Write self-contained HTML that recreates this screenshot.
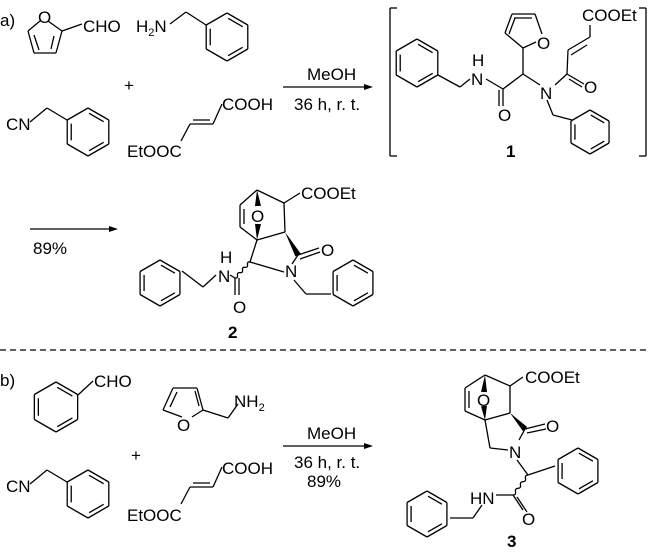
<!DOCTYPE html>
<html><head><meta charset="utf-8"><style>
body{margin:0;background:#fff}
svg{display:block}
text{font-family:"Liberation Sans",Arial,sans-serif;font-size:17px;fill:#000}
</style></head><body>
<svg id="s" width="650" height="553" viewBox="0 0 650 553" xmlns="http://www.w3.org/2000/svg">
<g id="g" stroke="#000" stroke-width="1.3" fill="none"></g>
<text x="0" y="26">a)</text>
<text x="38" y="23">O</text>
<text x="83" y="32">CHO</text>
<text x="136" y="32">H<tspan font-size="11" dy="4">2</tspan><tspan dy="-4">N</tspan></text>
<text x="124" y="91">+</text>
<text x="6" y="130">CN</text>
<text x="222" y="110">COOH</text>
<text x="127" y="157">EtOOC</text>
<text x="307" y="80">MeOH</text>
<text x="294" y="110">36 h, r. t.</text>
<text x="472" y="66">H</text>
<text x="471" y="85">N</text>
<text x="498" y="121">O</text>
<text x="537" y="49">O</text>
<text x="540" y="99">N</text>
<text x="584" y="93">O</text>
<text x="582" y="21">COOEt</text>
<text x="506" y="157" font-weight="bold">1</text>
<text x="33" y="254">89%</text>
<text x="251" y="222">O</text>
<text x="301" y="199">COOEt</text>
<text x="321" y="256">O</text>
<text x="285" y="277">N</text>
<text x="220" y="263">H</text>
<text x="218" y="282">N</text>
<text x="233" y="313">O</text>
<text x="228" y="338" font-weight="bold">2</text>
<text x="0" y="386">b)</text>
<text x="94" y="387">CHO</text>
<text x="177" y="431">O</text>
<text x="234" y="407">NH<tspan font-size="11" dy="4">2</tspan></text>
<text x="131" y="461">+</text>
<text x="6" y="492">CN</text>
<text x="222" y="474">COOH</text>
<text x="127" y="521">EtOOC</text>
<text x="307" y="439">MeOH</text>
<text x="294" y="468">36 h, r. t.</text>
<text x="307" y="487">89%</text>
<text x="477" y="406">O</text>
<text x="525" y="383">COOEt</text>
<text x="546" y="432">O</text>
<text x="509" y="458">N</text>
<text x="470" y="504">HN</text>
<text x="522" y="525">O</text>
<text x="507" y="547" font-weight="bold">3</text>
</svg>
<script>
const g=document.getElementById('g');const NS='http://www.w3.org/2000/svg';
function L(x1,y1,x2,y2,w){const e=document.createElementNS(NS,'line');e.setAttribute('x1',x1);e.setAttribute('y1',y1);e.setAttribute('x2',x2);e.setAttribute('y2',y2);if(w)e.setAttribute('stroke-width',w);g.appendChild(e);}
function P(pts,fill){const e=document.createElementNS(NS,'polygon');e.setAttribute('points',pts.map(p=>p.join(',')).join(' '));if(fill){e.setAttribute('fill','#000');e.setAttribute('stroke','none');}g.appendChild(e);}
function PL(pts){for(let i=0;i<pts.length-1;i++)L(pts[i][0],pts[i][1],pts[i+1][0],pts[i+1][1]);}
function dbl(a,b,c){const mx=(a[0]+b[0])/2,my=(a[1]+b[1])/2;let dx=c[0]-mx,dy=c[1]-my;const d=Math.hypot(dx,dy);dx=dx/d*4;dy=dy/d*4;
 const f=0.15;L(a[0]+(b[0]-a[0])*f+dx,a[1]+(b[1]-a[1])*f+dy,b[0]-(b[0]-a[0])*f+dx,b[1]-(b[1]-a[1])*f+dy);}
function hex(cx,cy,r){const v=[];for(let i=0;i<6;i++){const t=-Math.PI/2+i*Math.PI/3;v.push([cx+r*Math.cos(t),cy+r*Math.sin(t)]);}
 for(let i=0;i<6;i++)L(v[i][0],v[i][1],v[(i+1)%6][0],v[(i+1)%6][1]);
 for(let i=0;i<6;i+=2)dbl(v[i],v[(i+1)%6],[cx,cy]);return v;}
function arrow(x1,x2,y){L(x1,y,x2-6,y);P([[x2,y],[x2-9,y-3],[x2-9,y+3]],1);}
function wedge(a,b){const dx=b[0]-a[0],dy=b[1]-a[1],d=Math.hypot(dx,dy);const nx=-dy/d*3,ny=dx/d*3;P([a,[b[0]+nx,b[1]+ny],[b[0]-nx,b[1]-ny]],1);}
function wavy(a,b){const n=6;let s='M'+a[0]+','+a[1];const dx=(b[0]-a[0])/n,dy=(b[1]-a[1])/n,d=Math.hypot(dx,dy),nx=-dy/d*2.5,ny=dx/d*2.5;
 for(let i=1;i<=n;i++){const sg=i%2?1:-1;s+=' Q'+(a[0]+dx*(i-0.5)+nx*sg)+','+(a[1]+dy*(i-0.5)+ny*sg)+' '+(a[0]+dx*i)+','+(a[1]+dy*i);}
 const e=document.createElementNS(NS,'path');e.setAttribute('d',s);g.appendChild(e);}

PL([[48,21],[62,31],[56,53],[34,53],[28,31],[40,21]]);
L(34,35,39,50);L(54,36,51,49);
L(62,31,82,24);
hex(227,37,24);L(170,24,186,12);L(186,12,206,25);
hex(88,132,24);L(30,122,47,108);L(47,108,67,120);
PL([[222,104],[213,124],[190,124],[181,141]]);L(193,120,210,120);
arrow(283,373,87);

L(390,8,390,156);L(390,8,397,8);L(390,156,397,156);
L(646,8,646,156);L(646,8,639,8);L(646,156,639,156);
hex(417,63,24);
PL([[438,75],[460,87],[470,79]]);
PL([[486,79],[503,89],[523,74]]);
L(503,89,503,106);L(499,90,499,106);
PL([[523,74],[523,48],[505,33],[512,14],[535,14],[542,34]]);L(536,42,523,48);
L(509,34,515,18);L(514,18,532,18);
L(523,74,540,85);
PL([[555,85],[567,74],[568,50],[590,37],[590,25]]);
L(567,74,584,84);L(569,79,582,87);
L(571,55,587,45);
PL([[547,100],[553,115],[572,120]]);
hex(590,132,22);

arrow(30,118,229);
const C1=[257,190],C2=[284,203],Cl1=[240,205],Cl2=[240,227],C4=[257,240],C3a=[285,232],Cco=[298,255],Cn=[250,262];
PL([C1,Cl1,Cl2,C4]);L(244,209,244,224);
PL([C1,C2,C3a]);L(C2[0],C2[1],300,193);
wedge(C1,[258,206]);wedge(C4,[258,224]);
L(C4[0],C4[1],C3a[0],C3a[1]);
wedge(C3a,Cco);
L(Cco[0],Cco[1],319,248);L(300,259,320,252);
L(Cco[0],Cco[1],292,264);
L(284,272,Cn[0],Cn[1]);L(C4[0],C4[1],Cn[0],Cn[1]);
wavy(Cn,[235,278]);
L(235,278,235,295);L(239,278,239,295);
L(235,278,230,275);
PL([[216,275],[203,287],[182,271]]);
hex(160,283,23);
PL([[294,280],[306,294],[331,294]]);
hex(353,283,23);

{const e=document.createElementNS(NS,'line');e.setAttribute('x1',0);e.setAttribute('y1',350);e.setAttribute('x2',650);e.setAttribute('y2',350);e.setAttribute('stroke-dasharray','6,4');g.appendChild(e);}

hex(56,407,25);L(78,395,93,381);
PL([[182,417],[163,410],[173,388],[197,388],[203,410],[192,417]]);
L(170,407,177,392);L(195,391,199,406);
L(203,410,228,418);L(228,418,238,404);
hex(88,494,24);L(30,484,47,470);L(47,470,67,482);
PL([[222,467],[213,487],[190,487],[181,504]]);L(193,483,210,483);
arrow(283,373,446);

const D1=[485,375],D2=[510,386],Dl1=[465,388],Dl2=[465,411],D4=[485,420],D3a=[510,413],Dco=[525,429],Dch2=[490,448],Dch=[528,475];
PL([D1,Dl1,Dl2,D4]);L(469,391,469,408);
PL([D1,D2,D3a]);L(D2[0],D2[1],523,377);
wedge(D1,[484,392]);wedge(D4,[484,406]);
L(D4[0],D4[1],D3a[0],D3a[1]);
wedge(D3a,Dco);
L(Dco[0],Dco[1],545,424);L(527,433,546,429);
L(Dco[0],Dco[1],519,440);
L(508,450,Dch2[0],Dch2[1]);L(Dch2[0],Dch2[1],D4[0],D4[1]);
L(517,460,Dch[0],Dch[1]);
L(Dch[0],Dch[1],555,466);
hex(578,471,23);
wavy(Dch,[513,495]);
L(513,495,496,495);
L(513,495,523,510);L(517,497,527,512);
PL([[482,505],[473,518],[450,518]]);
hex(427,514,23);
</script>
</body></html>
